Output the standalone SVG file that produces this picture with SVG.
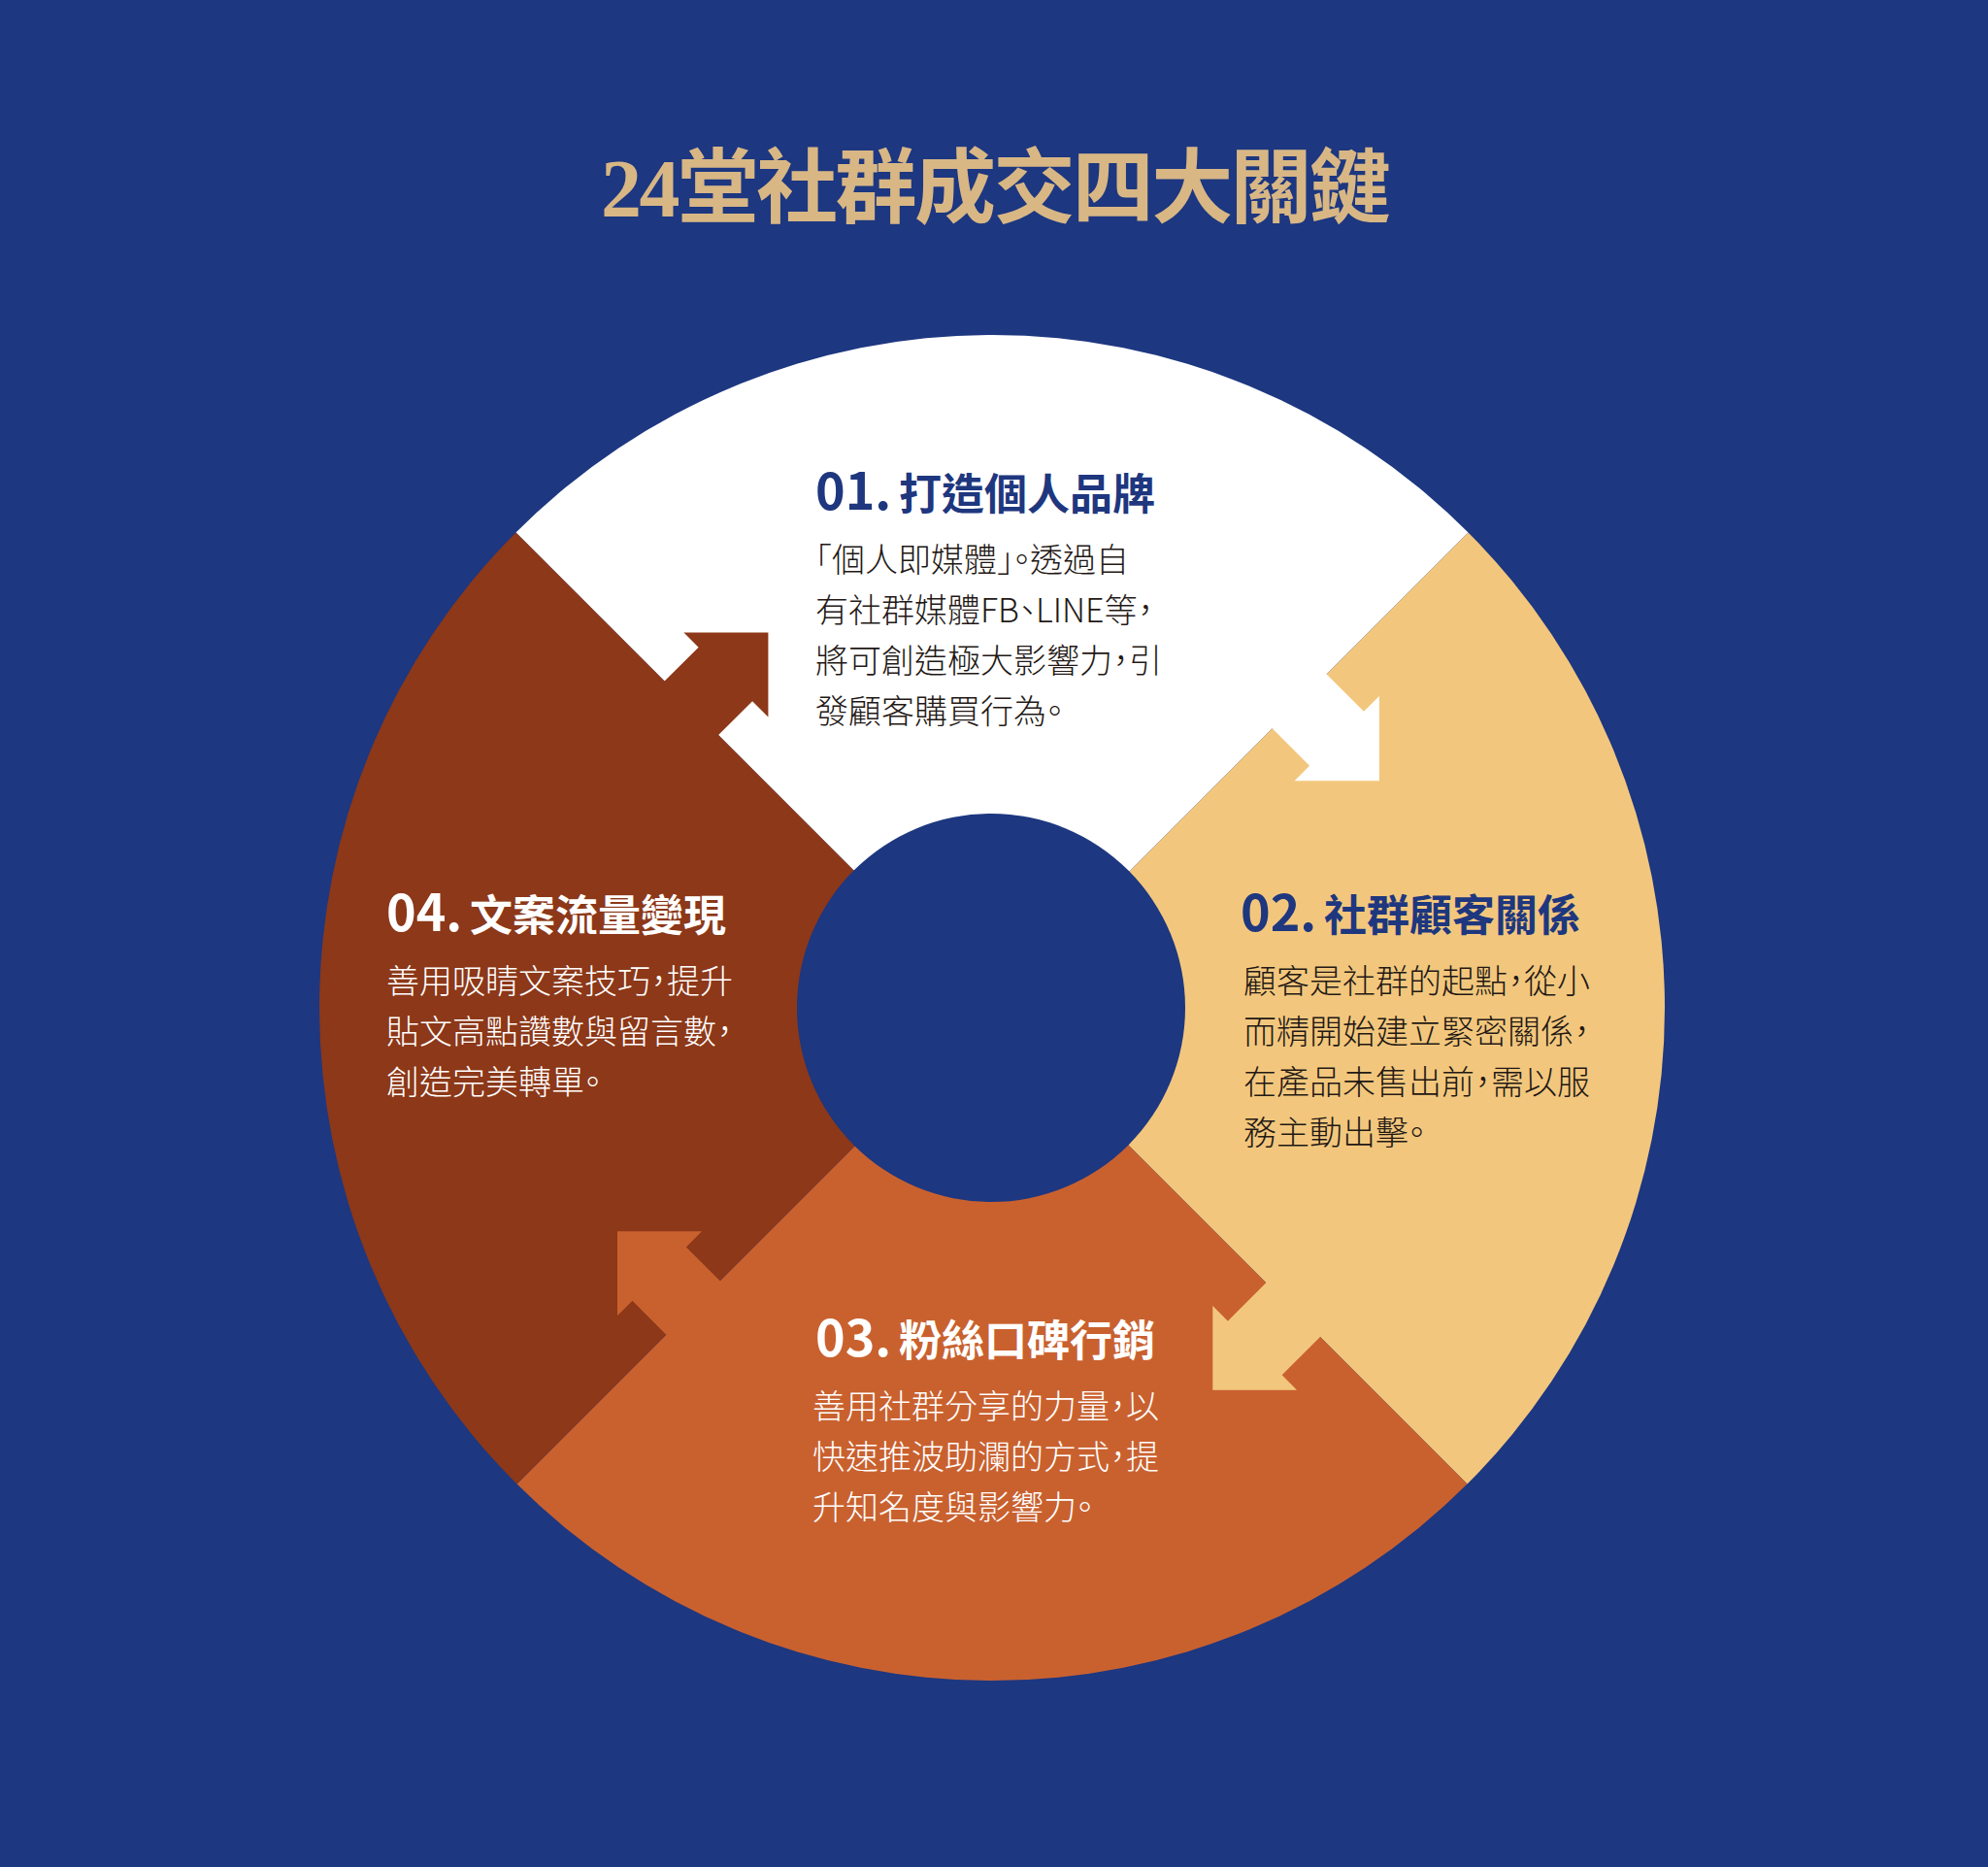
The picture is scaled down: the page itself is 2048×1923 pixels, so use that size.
<svg xmlns="http://www.w3.org/2000/svg" width="2048" height="1923" viewBox="0 0 2048 1923">
<style>
.title{font-family:"Liberation Serif","Noto Sans CJK TC",serif;font-weight:700;font-size:84px;letter-spacing:-2.6px;fill:#D8B785}
.hnum{font-family:"Noto Sans CJK TC","Noto Sans",sans-serif;font-weight:700;font-size:52px}
.hcjk{font-family:"Noto Sans CJK TC",sans-serif;font-weight:700;font-size:44px}
.body{font-family:"Noto Sans CJK TC",sans-serif;font-weight:300;font-size:34px;font-feature-settings:"halt"}
.navy{fill:#1E377F}
.dark{fill:#231815}
.light{fill:#FFFFFF}
</style>
<defs>
<clipPath id="ring"><circle cx="1022" cy="1038" r="693"/></clipPath>
</defs>
<rect width="2048" height="1923" fill="#1D3780"/>
<text class="title" x="619" y="223">24堂社群成交四大關鍵</text>
<g clip-path="url(#ring)">
<g id="node-01-shape"><polygon points="1022,1039 222,239 1822,239" fill="#FFFFFF"/></g>
<g id="node-02-shape"><polygon points="1022,1039 1822,239 1822,1839" fill="#F2C77D"/></g>
<g id="node-03-shape"><polygon points="1022,1039 1822,1839 222,1839" fill="#C9612F"/></g>
<g id="node-04-shape"><polygon points="1022,1039 222,1839 222,239" fill="#8C3819"/></g>
<g id="connectors">
<polygon points="683.1,703.1 719.6,666.7 704.4,651.5 791.4,651.5 791.4,738.5 775.1,722.2 738.6,758.6" fill="#8C3819"/>
<polygon points="1365.1,692.9 1405,732.8 1420.9,716.9 1420.9,804.2 1333.6,804.2 1349.1,788.7 1309.2,748.8" fill="#FFFFFF"/>
<polygon points="1361.5,1375.5 1320.65,1416.35 1336,1431.7 1249.3,1431.7 1249.3,1345 1264.95,1360.65 1305.8,1319.8" fill="#F2C77D"/>
<polygon points="743.2,1320.8 706.85,1284.45 723,1268.3 636,1268.3 636,1355.3 651.45,1339.85 687.8,1376.2" fill="#C9612F"/>
</g>
</g>
<circle id="hub" cx="1021" cy="1038" r="200" fill="#1D3780"/>
<g id="node-01">
<text class="navy" y="525"><tspan class="hnum" x="840">01.</tspan><tspan class="hcjk" x="926">打造個人品牌</tspan></text>
<text class="body dark" x="840" y="589">「個人即媒體」。透過自</text>
<text class="body dark" x="840" y="641">有社群媒體FB、LINE等，</text>
<text class="body dark" x="840" y="693">將可創造極大影響力，引</text>
<text class="body dark" x="840" y="745">發顧客購買行為。</text>
</g>
<g id="node-02">
<text class="navy" y="959"><tspan class="hnum" x="1278">02.</tspan><tspan class="hcjk" x="1364">社群顧客關係</tspan></text>
<text class="body dark" x="1281" y="1023">顧客是社群的起點，從小</text>
<text class="body dark" x="1281" y="1075">而精開始建立緊密關係，</text>
<text class="body dark" x="1281" y="1127">在產品未售出前，需以服</text>
<text class="body dark" x="1281" y="1179">務主動出擊。</text>
</g>
<g id="node-03">
<text class="light" y="1397"><tspan class="hnum" x="840">03.</tspan><tspan class="hcjk" x="926">粉絲口碑行銷</tspan></text>
<text class="body light" x="837" y="1461">善用社群分享的力量，以</text>
<text class="body light" x="837" y="1513">快速推波助瀾的方式，提</text>
<text class="body light" x="837" y="1565">升知名度與影響力。</text>
</g>
<g id="node-04">
<text class="light" y="959"><tspan class="hnum" x="398">04.</tspan><tspan class="hcjk" x="484">文案流量變現</tspan></text>
<text class="body light" x="398" y="1023">善用吸睛文案技巧，提升</text>
<text class="body light" x="398" y="1075">貼文高點讚數與留言數，</text>
<text class="body light" x="398" y="1127">創造完美轉單。</text>
</g>
</svg>
